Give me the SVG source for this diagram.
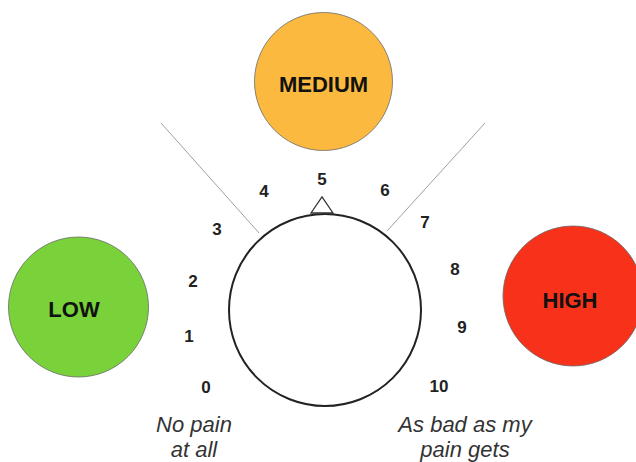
<svg xmlns="http://www.w3.org/2000/svg" width="636" height="462" viewBox="0 0 636 462">
<style>
.lvl{stroke:#6b6b6b;stroke-width:0.8}
.lvlt{font-family:"Liberation Sans",Arial,sans-serif;font-weight:bold;font-size:22px;fill:#111;text-anchor:middle}
.num{font-family:"Liberation Sans",Arial,sans-serif;font-weight:bold;font-size:17px;fill:#222;text-anchor:middle}
.cap{font-family:"Liberation Sans",Arial,sans-serif;font-style:italic;font-size:22px;fill:#333;text-anchor:middle}
.guide{stroke:#a0a0a0;stroke-width:1;fill:none}
</style>
<rect width="636" height="462" fill="#fff"/>
<g id="connectors">
<line class="guide" x1="161" y1="123" x2="259" y2="233"/>
<line class="guide" x1="485" y1="123" x2="387" y2="231"/>
</g>
<g id="medium">
<circle class="lvl" cx="323.5" cy="81.5" r="69" fill="#FBBA3F"/>
<text class="lvlt" x="323.5" y="92">MEDIUM</text>
</g>
<g id="low">
<circle class="lvl" cx="78.5" cy="307" r="70" fill="#79D23A"/>
<text class="lvlt" x="74" y="317">LOW</text>
</g>
<g id="high">
<circle class="lvl" cx="573" cy="296" r="70" fill="#F8311A"/>
<text class="lvlt" x="570" y="308">HIGH</text>
</g>
<g id="dial">
<circle cx="325" cy="310" r="96" fill="#fff" stroke="#222" stroke-width="2"/>
<polygon points="311,213 322,197 333,213" fill="#fff" stroke="#333" stroke-width="1.3"/>
</g>
<g id="scale">
<text class="num" x="206" y="393">0</text>
<text class="num" x="189" y="342">1</text>
<text class="num" x="193" y="287">2</text>
<text class="num" x="217" y="235">3</text>
<text class="num" x="264" y="197">4</text>
<text class="num" x="322" y="185">5</text>
<text class="num" x="385" y="196">6</text>
<text class="num" x="425" y="228">7</text>
<text class="num" x="455" y="275">8</text>
<text class="num" x="462" y="333">9</text>
<text class="num" x="439" y="392">10</text>
</g>
<g id="captions">
<text class="cap" x="194" y="432">No pain</text>
<text class="cap" x="194" y="457">at all</text>
<text class="cap" x="465" y="432">As bad as my</text>
<text class="cap" x="465" y="457">pain gets</text>
</g>
</svg>
